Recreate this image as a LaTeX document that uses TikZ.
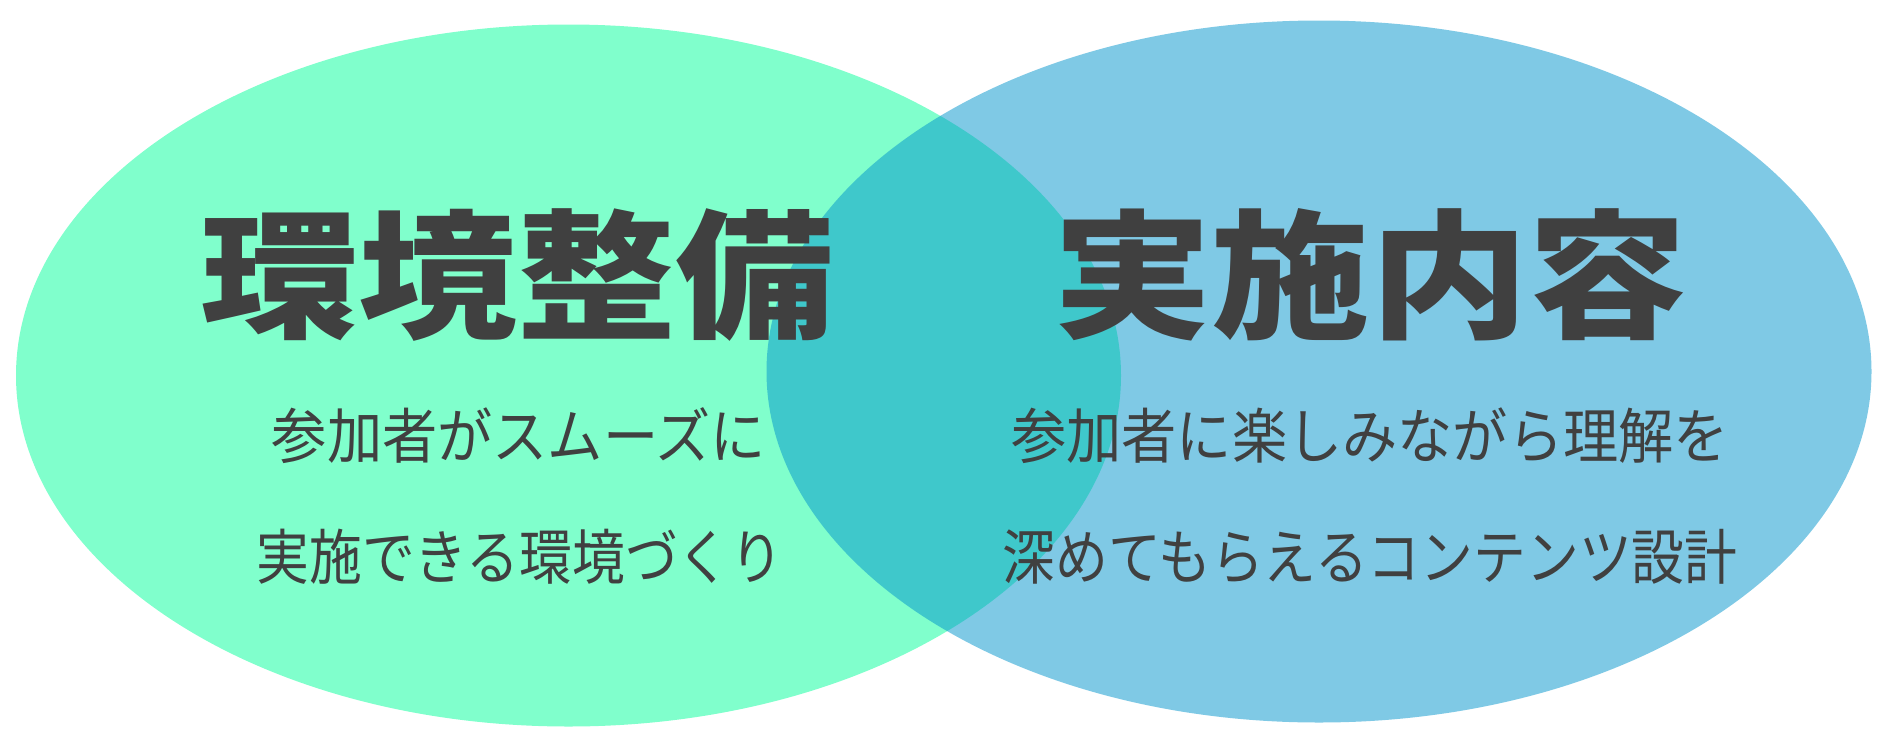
\documentclass[tikz,border=0pt]{standalone}
\usepackage{fontspec}
\newfontfamily\jpwide{Noto Sans CJK JP}[FakeStretch=1.14]
\newfontfamily\jpthin{Noto Sans CJK JP}[FakeStretch=0.92]
\newfontfamily\jpnarrow{Noto Sans CJK JP}[FakeStretch=0.88]
\definecolor{mintgreen}{RGB}{128, 255, 204}
\definecolor{skyblue}{RGB}{0, 147, 203}
\definecolor{textgray}{RGB}{64, 64, 64}
\usepackage{tikz}
\usetikzlibrary{shapes.geometric, positioning}

\begin{document}
\begin{tikzpicture}[
  x=0.5pt, y=-0.5pt,
  venn/.style={ellipse, inner sep=0pt, minimum width=552.5pt, minimum height=351pt},
  title/.style={font=\jpwide\bfseries\fontsize{69.5}{72}\selectfont, text=textgray, inner sep=0pt},
  desc/.style={font=\jpthin\fontsize{30}{32}\selectfont, text=textgray, inner sep=0pt},
  descnarrow/.style={desc, font=\jpnarrow\fontsize{30}{32}\selectfont}
]
  \useasboundingbox (0, 0) rectangle (1890, 750);
  \node[venn, fill=mintgreen] (env) at (568.5, 375.5) {};
  \node[venn, fill=skyblue, fill opacity=0.5] (content) at (1319, 371.5) {};
  \node[title] (envtitle) at (517, 275) {環境整備};
  \node[title] (contenttitle) at (1370, 275) {実施内容};
  \node[desc] (envline1) at (519, 436) {参加者がスムーズに};
  \node[descnarrow] (envline2) at (520, 557) {実施できる環境づくり};
  \node[desc] (contentline1) at (1370, 436) {参加者に楽しみながら理解を};
  \node[descnarrow] (contentline2) at (1370, 557) {深めてもらえるコンテンツ設計};
\end{tikzpicture}
\end{document}
